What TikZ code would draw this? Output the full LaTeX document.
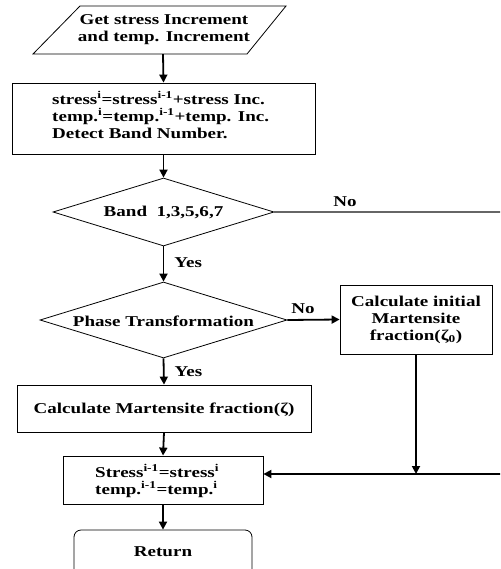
\documentclass[tikz,border=0pt]{standalone}
\usepackage{fontspec}
\setmainfont[FakeStretch=1.27]{Liberation Serif}
\usetikzlibrary{shapes.geometric,arrows.meta}
\tikzset{
  box/.style={draw, line width=0.8pt, inner sep=0pt},
  txt/.style={font=\fontsize{15}{17}\selectfont\bfseries, inner sep=0pt, align=center},
  txtl/.style={font=\fontsize{15}{17}\selectfont\bfseries, inner sep=0pt, align=left},
  arr/.style={line width=1.8pt, -{Triangle[length=8pt,width=8pt]}},
  dia/.style={diamond, draw, line width=0.8pt, inner sep=0pt},
}
\begin{document}
\begin{tikzpicture}[x=1pt,y=-1pt]
\useasboundingbox (0,0) rectangle (500,569);
\clip (0,0) rectangle (500,569);
% input parallelogram
\draw[line width=0.8pt] (33,54) -- (247,54) -- (286,6) -- (80,6) -- cycle;
\node[inner sep=0pt, minimum width=200pt, minimum height=48pt] (in) at (163,30) {};
\node[txt] (intxt) at (164,30) {Get stress Increment\\and temp. Increment};
% box 1
\node[box, minimum width=303pt, minimum height=71pt] (b1) at (163.5,118.5) {};
\node[txtl, anchor=west] (b1t) at (52,115) {stress\textsuperscript{i}=stress\textsuperscript{i-1}+stress Inc.\\temp.\textsuperscript{i}=temp.\textsuperscript{i-1}+temp. Inc.\\Detect Band Number.};
% diamond 1
\node[dia, minimum width=221pt, minimum height=68pt] (d1) at (163.5,212) {};
\node[txt] (d1t) at (163.5,212) {Band\ \ 1,3,5,6,7};
% diamond 2
\node[dia, minimum width=247pt, minimum height=76pt] (d2) at (163.5,320) {};
\node[txt] (d2t) at (163.5,321) {Phase Transformation};
% box 2
\node[box, minimum width=152pt, minimum height=69pt] (b2) at (416,319.5) {};
\node[txt] (b2t) at (416,320) {Calculate initial\\Martensite\\fraction(ζ\textsubscript{0})};
% box 3
\node[box, minimum width=294pt, minimum height=47pt] (b3) at (164,408.5) {};
\node[txt] (b3t) at (164,410) {Calculate Martensite fraction(ζ)};
% box 4
\node[box, minimum width=200pt, minimum height=48pt] (b4) at (163,480) {};
\node[txtl, anchor=west] (b4t) at (95,481) {Stress\textsuperscript{i-1}=stress\textsuperscript{i}\\temp.\textsuperscript{i-1}=temp.\textsuperscript{i}};
% terminal
\node[box, rounded corners=7pt, minimum width=178pt, minimum height=50pt] (ret) at (163,555) {};
\node[txt] (rett) at (163,552) {Return};
% right side coordinates
\coordinate (r1) at (510,212);
\coordinate (r2) at (510,474);
\coordinate (j) at (b2.south |- r2);
% connectors
\draw[arr] (in.south) -- (b1.north);
\draw[arr] (b1.south) -- (d1.north);
\draw[arr] (d1.south) -- node[txt, right=10pt, pos=0.45] (yes1) {Yes} (d2.north);
\draw[arr] (d2.east) -- node[txt, above=5pt, pos=0.3] (no2) {No} (b2.west);
\draw[arr] (d2.south) -- node[txt, right=10pt, pos=0.5] (yes2) {Yes} (b3.north);
\draw[arr] (b3.south) -- (b4.north);
\draw[arr] (b4.south) -- (ret.north);
\draw[line width=1.2pt, black!60] (d1.east) -- node[txt, black, above=5pt, pos=0.3] (no1) {No} (r1);
\draw[line width=1.2pt] (r1) -- (r2);
\draw[arr] (b2.south) -- (j);
\draw[arr] (r2) -- (r2 -| b4.east);
\end{tikzpicture}
\end{document}
